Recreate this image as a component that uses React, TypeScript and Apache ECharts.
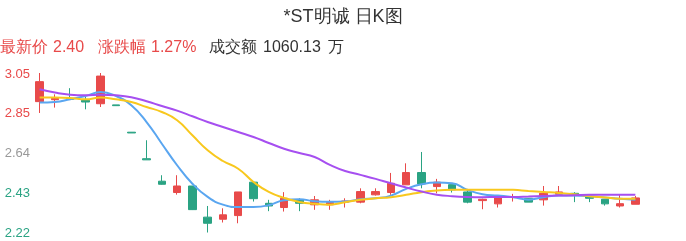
import { useEffect, useRef } from "react";
import * as echarts from "echarts";

const TITLE = "*ST明诚 日K图";
const LAST_PRICE = "2.40";
const CHANGE_PCT = "1.27%";
const TURNOVER = "1060.13";

const UP = "#e84a4a";
const DOWN = "#2aa383";

// Daily bars: [open, close, low, high]
const candles: number[][] = [
  [2.901, 3.005, 2.842, 3.05],
  [2.911, 2.918, 2.87, 2.939],
  [2.917, 2.913, 2.913, 2.971],
  [2.908, 2.899, 2.861, 2.925],
  [2.89, 3.034, 2.873, 3.05],
  [2.884, 2.88, 2.88, 2.884],
  [2.742, 2.738, 2.738, 2.742],
  [2.604, 2.598, 2.598, 2.7],
  [2.487, 2.471, 2.469, 2.518],
  [2.428, 2.462, 2.417, 2.518],
  [2.462, 2.339, 2.337, 2.462],
  [2.3, 2.268, 2.22, 2.358],
  [2.289, 2.312, 2.272, 2.346],
  [2.308, 2.431, 2.268, 2.431],
  [2.482, 2.396, 2.381, 2.483],
  [2.372, 2.358, 2.331, 2.39],
  [2.35, 2.398, 2.329, 2.43],
  [2.39, 2.372, 2.331, 2.398],
  [2.364, 2.39, 2.338, 2.41],
  [2.364, 2.376, 2.338, 2.39],
  [2.378, 2.384, 2.35, 2.398],
  [2.378, 2.433, 2.372, 2.45],
  [2.416, 2.433, 2.412, 2.45],
  [2.428, 2.476, 2.416, 2.53],
  [2.468, 2.532, 2.468, 2.58],
  [2.532, 2.473, 2.45, 2.639],
  [2.459, 2.482, 2.424, 2.499],
  [2.469, 2.442, 2.428, 2.469],
  [2.431, 2.378, 2.372, 2.447],
  [2.386, 2.393, 2.341, 2.396],
  [2.369, 2.4, 2.35, 2.4],
  [2.402, 2.407, 2.381, 2.421],
  [2.398, 2.378, 2.378, 2.398],
  [2.39, 2.424, 2.36, 2.462],
  [2.419, 2.431, 2.419, 2.462],
  [2.424, 2.419, 2.378, 2.43],
  [2.407, 2.398, 2.378, 2.407],
  [2.393, 2.369, 2.36, 2.393],
  [2.358, 2.37, 2.35, 2.416],
  [2.367, 2.4, 2.367, 2.41],
];

// Moving averages
const ma5 = [
  2.896, 2.899, 2.913, 2.93, 2.951, 2.93, 2.882, 2.795, 2.682, 2.57,
  2.474, 2.405, 2.365, 2.353, 2.353, 2.362, 2.388, 2.393, 2.383, 2.38,
  2.381, 2.393, 2.398, 2.412, 2.447, 2.471, 2.48, 2.476, 2.442, 2.419,
  2.412, 2.404, 2.391, 2.404, 2.412, 2.412, 2.409, 2.402, 2.395, 2.391,
];
const ma10 = [
  2.922, 2.922, 2.92, 2.913, 2.922, 2.913, 2.899, 2.873, 2.847, 2.804,
  2.726, 2.648, 2.592, 2.552, 2.483, 2.431, 2.4, 2.379, 2.369, 2.365,
  2.378, 2.39, 2.398, 2.404, 2.416, 2.43, 2.438, 2.442, 2.443, 2.443,
  2.443, 2.442, 2.436, 2.431, 2.426, 2.419, 2.409, 2.402, 2.396, 2.395,
];
const ma20 = [
  2.965, 2.948, 2.937, 2.934, 2.937, 2.934, 2.924, 2.903, 2.878, 2.854,
  2.825, 2.795, 2.769, 2.743, 2.717, 2.686, 2.656, 2.634, 2.613, 2.572,
  2.54, 2.52, 2.499, 2.476, 2.454, 2.433, 2.417, 2.409, 2.405, 2.404,
  2.405, 2.405, 2.407, 2.41, 2.412, 2.414, 2.416, 2.416, 2.417, 2.417,
];

const days = candles.map((_, i) => String(i + 1));

// Price scale labels, bottom to top, with their tone against the prior close
const Y_MIN = 2.22;
const Y_MAX = 3.05;
const yTicks = ["2.22", "2.43", "2.64", "2.85", "3.05"];
const yTone = ["down", "down", "flat", "up", "up"];
const Y_STEP = (Y_MAX - Y_MIN) / (yTicks.length - 1);

export default function App() {
  const ref = useRef<HTMLDivElement>(null);

  useEffect(() => {
    if (!ref.current) return;
    const chart = echarts.init(ref.current, undefined, { renderer: "svg" });
    const font = "sans-serif";
    const headerText = (x: number, text: string, color: string) => ({
      type: "text",
      left: x,
      top: 38,
      style: { text, fill: color, font: `16px ${font}` },
    });
    chart.setOption({
      animation: false,
      title: {
        text: TITLE,
        left: "center",
        top: 2,
        textStyle: { fontSize: 18, fontWeight: "normal", color: "#333", fontFamily: font },
      },
      graphic: [
        headerText(0, "最新价", UP),
        headerText(53, LAST_PRICE, UP),
        headerText(98, "涨跌幅", UP),
        headerText(151, CHANGE_PCT, UP),
        headerText(209, "成交额", "#333"),
        headerText(263, TURNOVER, "#333"),
        headerText(328, "万", "#333"),
      ],
      grid: { left: 32, right: 43, top: 73, height: 159.5, containLabel: false },
      xAxis: {
        type: "category",
        data: days,
        boundaryGap: true,
        show: false,
      },
      yAxis: {
        type: "value",
        min: Y_MIN,
        max: Y_MAX,
        interval: Y_STEP,
        axisLine: { show: false },
        axisTick: { show: false },
        splitLine: { show: false },
        axisLabel: {
          margin: 2,
          fontSize: 13,
          fontFamily: font,
          formatter: (v: number) => {
            const i = Math.max(0, Math.min(yTicks.length - 1, Math.round((v - Y_MIN) / Y_STEP)));
            return `{${yTone[i]}|${yTicks[i]}}`;
          },
          rich: {
            up: { color: UP, fontSize: 13, fontFamily: font },
            down: { color: DOWN, fontSize: 13, fontFamily: font },
            flat: { color: "#999", fontSize: 13, fontFamily: font },
          },
        },
      },
      series: [
        {
          type: "candlestick",
          data: candles,
          barWidth: 8,
          itemStyle: {
            color: UP,
            color0: DOWN,
            borderColor: UP,
            borderColor0: DOWN,
            borderWidth: 1,
          },
        },
        {
          type: "line",
          data: ma5,
          smooth: true,
          showSymbol: false,
          lineStyle: { width: 2, color: "#5aa6f0" },
        },
        {
          type: "line",
          data: ma10,
          smooth: true,
          showSymbol: false,
          lineStyle: { width: 2, color: "#f8c81e" },
        },
        {
          type: "line",
          data: ma20,
          smooth: true,
          showSymbol: false,
          lineStyle: { width: 2, color: "#a64ff0" },
        },
      ],
    });
    return () => chart.dispose();
  }, []);

  return (
    <div
      ref={ref}
      style={{ position: "fixed", left: 0, top: 0, width: 686, height: 241 }}
    />
  );
}
